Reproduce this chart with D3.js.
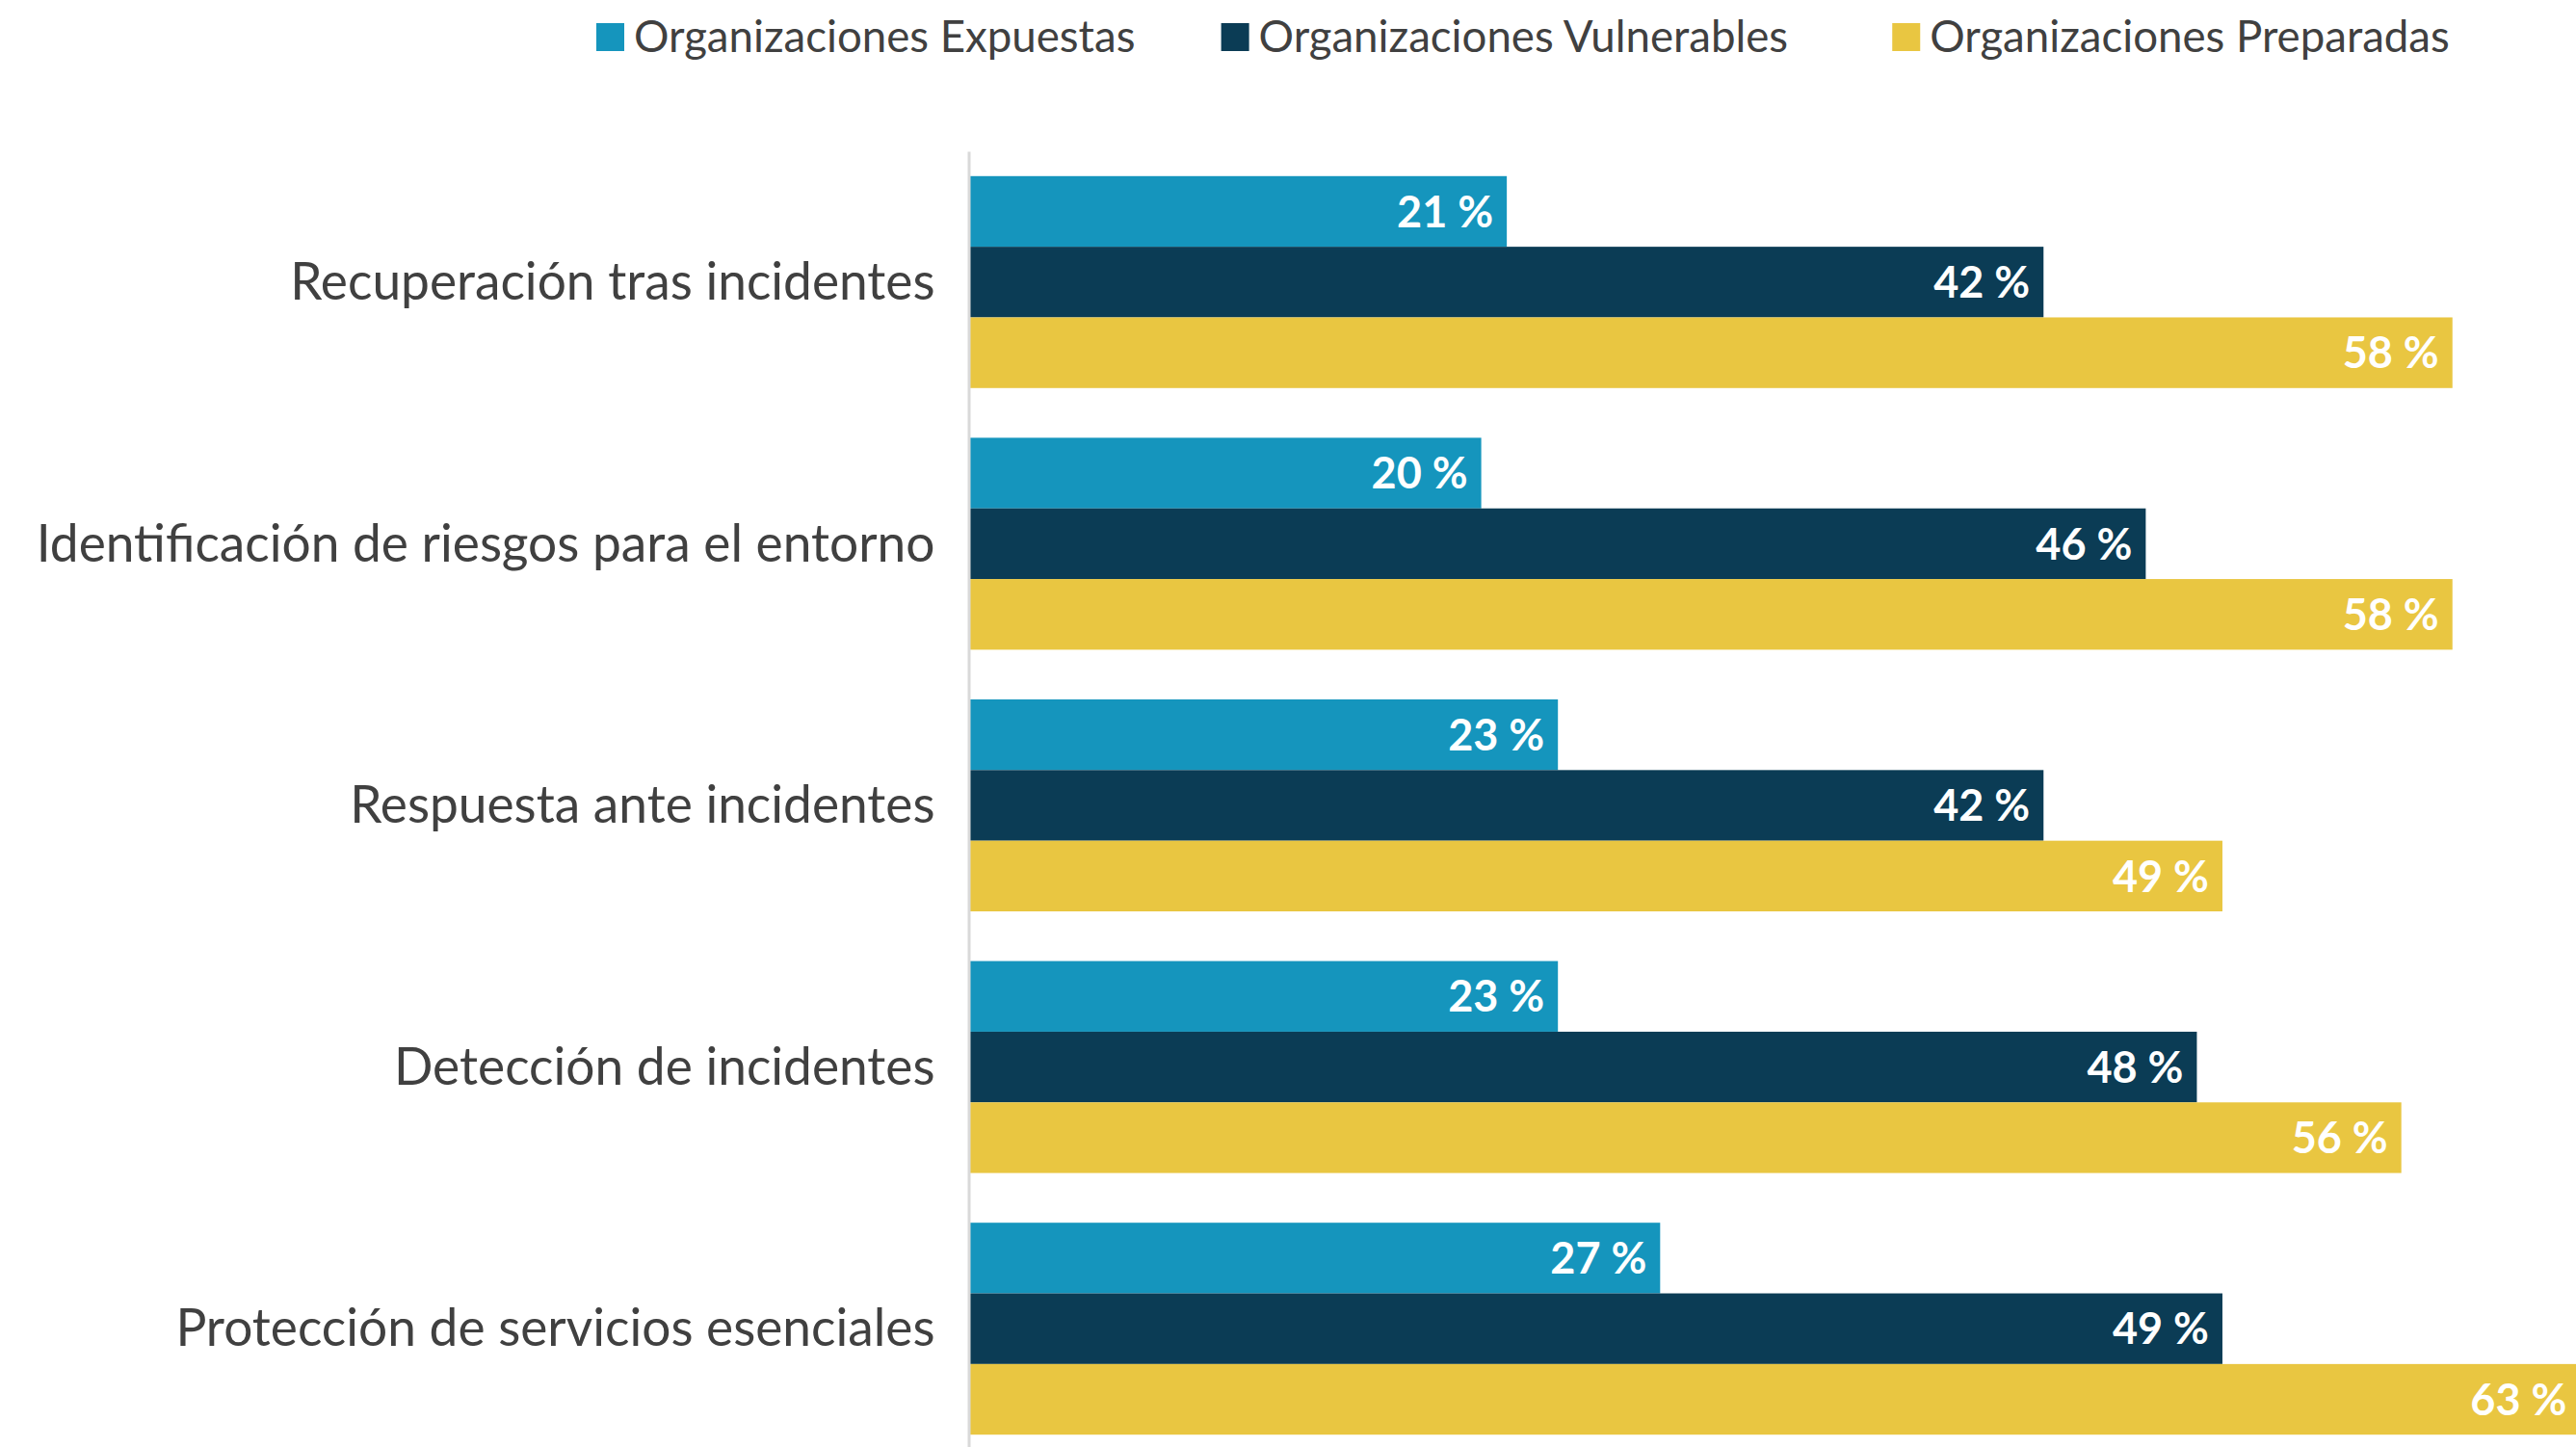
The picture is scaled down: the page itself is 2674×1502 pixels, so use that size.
<!DOCTYPE html>
<html><head><meta charset="utf-8">
<script src="https://cdn.jsdelivr.net/npm/d3@7"></script>
<style>body{margin:0;background:#fff;overflow:hidden} svg{display:block}</style>
</head><body>
<script>
const categories = [
  "Recuperación tras incidentes",
  "Identificación de riesgos para el entorno",
  "Respuesta ante incidentes",
  "Detección de incidentes",
  "Protección de servicios esenciales"
];
const seriesNames = ["Organizaciones Expuestas", "Organizaciones Vulnerables", "Organizaciones Preparadas"];
const expuestas   = [21, 20, 23, 23, 27];
const vulnerables = [42, 46, 42, 48, 49];
const preparadas  = [58, 58, 49, 56, 63];
const colors = ["#1595bd", "#0b3c55", "#e9c641"];

const W = 2674, H = 1502;
const FONT = "Lato, 'Source Sans Pro', sans-serif";
const seriesValues = [expuestas, vulnerables, preparadas];
const rows = categories.map((c, i) => ({cat: c, vals: seriesNames.map((s, j) => ({s, v: seriesValues[j][i]}))}));

const svg = d3.select("body").append("svg").attr("width", W).attr("height", H);

const x0 = 1007;
const x = d3.scaleLinear().domain([0, 100]).range([x0, x0 + 2653]);
const y = d3.scaleBand().domain(categories).range([157, 1515]).paddingInner(0.19).paddingOuter(0.095);
const ys = d3.scaleBand().domain(seriesNames).range([0, y.bandwidth()]);
const color = d3.scaleOrdinal().domain(seriesNames).range(colors);

const g = svg.selectAll("g.row").data(rows).join("g").attr("class", "row")
  .attr("transform", d => `translate(0,${y(d.cat)})`);
g.selectAll("rect").data(d => d.vals).join("rect")
  .attr("x", x(0)).attr("y", d => ys(d.s))
  .attr("width", d => x(d.v) - x(0)).attr("height", ys.bandwidth())
  .attr("fill", d => color(d.s));
g.selectAll("text.val").data(d => d.vals).join("text").attr("class", "val")
  .attr("x", d => x(d.v) - 14).attr("y", d => ys(d.s) + ys.bandwidth() / 2)
  .attr("dy", "0.36em").attr("text-anchor", "end")
  .attr("fill", "#fff").attr("font-family", FONT).attr("font-weight", 700).attr("font-size", 45)
  .text(d => d.v + " %");

// y axis
const axis = svg.append("g").attr("transform", `translate(${x0 - 1.5},0)`)
  .call(d3.axisLeft(y).tickSize(0).tickPadding(35));
axis.select(".domain").attr("stroke", "#d9d9d9").attr("stroke-width", 3);
axis.selectAll(".tick text").attr("font-family", FONT).attr("font-size", 50).attr("fill", "#404040").attr("dy", "0.34em");
// fit label size
let maxW = 0;
axis.selectAll(".tick text").each(function(){ maxW = Math.max(maxW, this.getComputedTextLength()); });
const labelSize = 50 * 933 / maxW;
axis.selectAll(".tick text").attr("font-size", labelSize);

// legend
const legend = svg.append("g");
const legSize = 44;
const items = legend.selectAll("g").data(seriesNames).join("g");
items.append("rect").attr("width", 29).attr("height", 29).attr("y", 24).attr("fill", d => color(d));
items.append("text").attr("x", 39).attr("y", 38).attr("dy", "0.35em")
  .attr("font-family", FONT).attr("font-size", legSize).attr("fill", "#404040").text(d => d);
// fit legend so the texts span target width
let tw = [];
items.select("text").each(function(){ tw.push(this.getComputedTextLength()); });
const targetTotal = 517 + 549 + 544;
const k = targetTotal / d3.sum(tw);
items.select("text").attr("font-size", legSize * k);
tw = tw.map(v => v * k);
const starts = [619];
const gaps = [89, 108];
for (let i = 1; i < 3; i++) starts.push(starts[i-1] + 39 + tw[i-1] + gaps[i-1]);
items.attr("transform", (d, i) => `translate(${starts[i]},0)`);
</script>
</body></html>
